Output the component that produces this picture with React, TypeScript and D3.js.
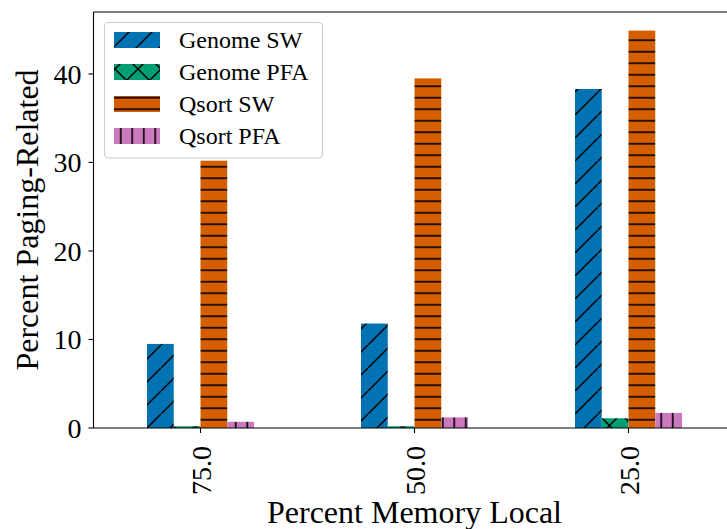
import * as d3 from 'd3';
import React, { useEffect, useRef } from 'react';

const categories = ['75.0', '50.0', '25.0'];
const seriesNames = ['Genome SW', 'Genome PFA', 'Qsort SW', 'Qsort PFA'];
const genomeSW = [9.5, 11.8, 38.3];
const genomePFA = [0.2, 0.2, 1.1];
const qsortSW = [30.2, 39.5, 44.9];
const qsortPFA = [0.7, 1.2, 1.7];
const yTicks = [0, 10, 20, 30, 40];

const colors = ['#0173b2', '#029e73', '#d55e00', '#cc78bc'];
const hatches = ['/', 'x', '-', '|'];

const W = 727;
const H = 529;
const FONT = "'Liberation Serif', 'Times New Roman', serif";

export default function App() {
  const ref = useRef<SVGSVGElement>(null);

  useEffect(() => {
    document.body.style.margin = '0';
    const svg = d3.select(ref.current);
    svg.selectAll('*').remove();

    const series = [genomeSW, genomePFA, qsortSW, qsortPFA];
    const left = 93.5;
    const top = 12;
    const bottom = 428;
    const unit = 214;

    const x = d3.scaleLinear().domain([-0.5, 2.5]).range([left, left + 3 * unit]);
    const y = d3.scaleLinear().domain([0, 47]).range([bottom, top]);
    const barW = 0.125;

    // hatch patterns
    const defs = svg.append('defs');
    hatches.forEach((h, i) => {
      const p = defs.append('pattern').attr('id', 'hatch' + i).attr('patternUnits', 'userSpaceOnUse');
      if (h === '/' || h === 'x') {
        const s = 23;
        p.attr('width', s).attr('height', s);
        p.append('rect').attr('width', s).attr('height', s).attr('fill', colors[i]);
        const g = p.append('g').attr('stroke', 'black').attr('stroke-width', 1.5);
        g.append('line').attr('x1', -2).attr('y1', s + 2).attr('x2', s + 2).attr('y2', -2);
        if (h === 'x') {
          g.append('line').attr('x1', -2).attr('y1', -2).attr('x2', s + 2).attr('y2', s + 2);
        }
      } else if (h === '-') {
        const s = 11.5;
        p.attr('width', 10).attr('height', s);
        p.append('rect').attr('width', 10).attr('height', s).attr('fill', colors[i]);
        p.append('line').attr('x1', 0).attr('x2', 10).attr('y1', s / 2).attr('y2', s / 2)
          .attr('stroke', 'black').attr('stroke-width', 1.6);
      } else {
        const s = 11.5;
        p.attr('width', s).attr('height', 10);
        p.append('rect').attr('width', s).attr('height', 10).attr('fill', colors[i]);
        p.append('line').attr('y1', 0).attr('y2', 10).attr('x1', s / 2).attr('x2', s / 2)
          .attr('stroke', 'black').attr('stroke-width', 1.6);
      }
    });

    // bars
    series.forEach((vals, j) => {
      svg.append('g')
        .selectAll('rect')
        .data(vals)
        .join('rect')
        .attr('x', (_d, i) => x(i + (j - 2) * barW))
        .attr('width', x(barW) - x(0))
        .attr('y', (d) => y(d))
        .attr('height', (d) => y(0) - y(d))
        .attr('fill', `url(#hatch${j})`);
    });

    // spines
    svg.append('line').attr('x1', left).attr('x2', left).attr('y1', top).attr('y2', bottom)
      .attr('stroke', 'black').attr('stroke-width', 1.1);
    svg.append('line').attr('x1', left).attr('x2', W).attr('y1', top).attr('y2', top)
      .attr('stroke', 'black').attr('stroke-width', 1.1);
    svg.append('line').attr('x1', left).attr('x2', W).attr('y1', bottom).attr('y2', bottom)
      .attr('stroke', 'black').attr('stroke-width', 1.1);

    // y axis
    const yAxis = svg.append('g');
    yTicks.forEach((t) => {
      yAxis.append('line').attr('x1', left - 5).attr('x2', left).attr('y1', y(t)).attr('y2', y(t))
        .attr('stroke', 'black').attr('stroke-width', 1.1);
      yAxis.append('text').attr('x', left - 12).attr('y', y(t)).attr('dy', '0.35em')
        .attr('text-anchor', 'end').attr('font-family', FONT).attr('font-size', 28).text(t);
    });

    // x axis
    const xAxis = svg.append('g');
    categories.forEach((c, i) => {
      xAxis.append('line').attr('x1', x(i)).attr('x2', x(i)).attr('y1', bottom).attr('y2', bottom + 5)
        .attr('stroke', 'black').attr('stroke-width', 1.1);
      xAxis.append('text')
        .attr('transform', `translate(${x(i) + 10},${bottom + 18}) rotate(-90)`)
        .attr('text-anchor', 'end').attr('font-family', FONT).attr('font-size', 28).text(c);
    });

    // axis labels
    svg.append('text').attr('x', (left + left + 3 * unit) / 2).attr('y', 523)
      .attr('text-anchor', 'middle').attr('font-family', FONT).attr('font-size', 32)
      .text('Percent Memory Local');
    svg.append('text').attr('transform', `translate(38,${(top + bottom) / 2}) rotate(-90)`)
      .attr('text-anchor', 'middle').attr('font-family', FONT).attr('font-size', 32)
      .text('Percent Paging-Related');

    // legend
    const lg = svg.append('g');
    lg.append('rect').attr('x', 104.5).attr('y', 22.5).attr('width', 218).attr('height', 135.5)
      .attr('rx', 4).attr('fill', 'white').attr('fill-opacity', 0.8)
      .attr('stroke', '#cccccc').attr('stroke-width', 1.1);
    seriesNames.forEach((name, j) => {
      const cy = 40 + j * 32;
      lg.append('rect').attr('x', 114).attr('y', cy - 8).attr('width', 46).attr('height', 16)
        .attr('fill', `url(#hatch${j})`);
      lg.append('text').attr('x', 179).attr('y', cy).attr('dy', '0.35em')
        .attr('font-family', FONT).attr('font-size', 24).text(name);
    });
  }, []);

  return <svg ref={ref} width={W} height={H} style={{ display: 'block' }} />;
}
